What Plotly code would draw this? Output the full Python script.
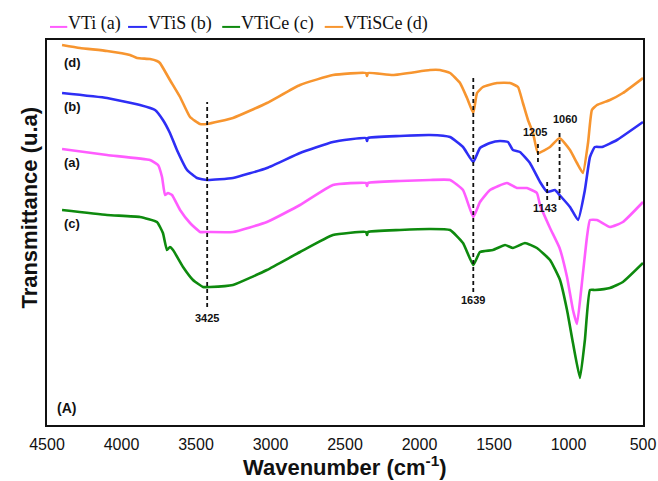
import plotly.graph_objects as go

# ---------------- data ----------------
wn_vti = [4399, 4097, 3809, 3755, 3728, 3708, 3688, 3661, 3607, 3540, 3473, 3425, 3252, 3024,
          2802, 2581, 2359, 2352, 2346, 2131, 1930, 1795, 1708, 1639, 1594, 1527, 1413, 1346,
          1279, 1212, 1191, 1124, 1060, 1010, 970, 943, 910, 876, 856, 809, 722, 635, 500]
t_vti = [276, 270, 265, 260, 248, 230, 232, 230, 215, 202, 193, 193, 193, 203,
         220, 240, 242, 239, 242, 244, 245, 245, 235, 208, 223, 235, 242, 237,
         237, 232, 220, 197, 177, 148, 115, 101, 142, 188, 205, 205, 198, 203, 223]

wn_vtis = [4399, 4097, 3876, 3775, 3722, 3675, 3628, 3560, 3493, 3425, 3252, 3024, 2802, 2581,
           2359, 2352, 2346, 2131, 1930, 1795, 1708, 1639, 1594, 1527, 1460, 1406, 1373, 1326,
           1259, 1191, 1143, 1091, 1060, 990, 936, 890, 856, 823, 775, 675, 500]
t_vtis = [332, 327, 320, 315, 305, 292, 275, 255, 247, 245, 247, 257, 272, 283,
          287, 284, 287, 289, 290, 288, 278, 263, 277, 282, 284, 283, 275, 273,
          262, 243, 233, 235, 230, 218, 205, 235, 268, 278, 278, 285, 303]

wn_vtice = [4399, 4097, 3876, 3762, 3722, 3695, 3675, 3654, 3587, 3520, 3453, 3406, 3252, 3024,
            2802, 2581, 2359, 2352, 2346, 2131, 1930, 1795, 1708, 1639, 1594, 1507, 1426, 1373,
            1292, 1212, 1124, 1057, 1010, 970, 923, 890, 856, 823, 722, 635, 500]
t_vtice = [215, 210, 208, 203, 192, 175, 178, 175, 158, 145, 138, 138, 140, 155,
           173, 190, 193, 190, 193, 195, 196, 195, 182, 160, 173, 175, 180, 177,
           182, 177, 165, 145, 115, 82, 47, 85, 135, 135, 137, 143, 162]

wn_vtisce = [4399, 4279, 4097, 3943, 3896, 3809, 3762, 3742, 3675, 3607, 3540, 3473, 3425, 3252,
             3024, 2802, 2581, 2359, 2352, 2346, 2178, 1930, 1863, 1795, 1728, 1681, 1639, 1614,
             1574, 1480, 1393, 1339, 1306, 1272, 1238, 1205, 1124, 1060, 990, 943, 903, 869,
             843, 809, 722, 635, 500]
t_vtisce = [380, 377, 374, 370, 367, 366, 364, 362, 345, 328, 308, 301, 301, 307,
            322, 340, 350, 352, 349, 352, 350, 355, 355, 352, 342, 327, 312, 332,
            338, 342, 342, 338, 322, 305, 292, 272, 278, 287, 275, 262, 252, 282,
            315, 320, 325, 332, 347]

series_names = ["VTi (a)", "VTiS (b)", "VTiCe (c)", "VTiSCe (d)"]
series_tags = ["(a)", "(b)", "(c)", "(d)"]
peak_values = [3425, 1639, 1205, 1143, 1060]
x_ticks = [4500, 4000, 3500, 3000, 2500, 2000, 1500, 1000, 500]

# ---------------- styling ----------------
colors = ["#FF5CFF", "#2E2EF5", "#0E8A0E", "#F7952F"]
xs = [wn_vti, wn_vtis, wn_vtice, wn_vtisce]
ys = [t_vti, t_vtis, t_vtice, t_vtisce]

fig = go.Figure()
for name, x, y, c in zip(series_names, xs, ys, colors):
    fig.add_trace(go.Scatter(x=x, y=y, mode="lines", name=name,
                             line=dict(color=c, width=2.6, shape="spline", smoothing=0.4),
                             showlegend=False, hoverinfo="skip"))

# dashed marker lines: (y0, y1, label x, label y)
dash_geo = {
    3425: (118, 323, 3425, 107),
    1639: (133, 347, 1639, 125),
    1205: (263, 283, 1225, 293),
    1143: (225, 245, 1158, 217),
    1060: (225, 292, 1024, 306),
}
for p in peak_values:
    y0, y1, lx, ly = dash_geo[p]
    fig.add_shape(type="line", xref="x", yref="y", x0=p, x1=p, y0=y0, y1=y1,
                  line=dict(color="#111111", width=1.8, dash="4px,3px"))
    fig.add_annotation(x=lx, y=ly, xref="x", yref="y", text="<b>%d</b>" % p, showarrow=False,
                       font=dict(family="Liberation Sans", size=11, color="#111111"),
                       xanchor="center", yanchor="middle")

# curve tags
tag_pos = {"(d)": 363, "(b)": 319, "(a)": 263, "(c)": 202}
for t in series_tags:
    fig.add_annotation(x=4332, y=tag_pos[t], xref="x", yref="y", text="<b>" + t + "</b>",
                       showarrow=False, font=dict(family="Liberation Sans", size=13, color="#111111"))
fig.add_annotation(x=4366, y=17, xref="x", yref="y", text="<b>(A)</b>", showarrow=False,
                   font=dict(family="Liberation Sans", size=14, color="#111111"))

# legend row: short coloured line + serif label (paper coordinates)
leg_line_x = [(0.005, 0.034), (0.136, 0.168), (0.294, 0.324), (0.466, 0.497)]
for name, c, (lx0, lx1) in zip(series_names, colors, leg_line_x):
    fig.add_shape(type="line", xref="paper", yref="paper", x0=lx0, x1=lx1, y0=1.034, y1=1.034,
                  line=dict(color=c, width=2))
    fig.add_annotation(x=lx1 - 0.002, y=1.043, xref="paper", yref="paper", xanchor="left",
                       yanchor="middle", text=name, showarrow=False,
                       font=dict(family="Liberation Serif", size=18, color="#111111"))

# y title
fig.add_annotation(x=-0.03, y=0.565, xref="paper", yref="paper", text="<b>Transmittance (u.a)</b>",
                   textangle=-90, showarrow=False, xanchor="center", yanchor="middle",
                   font=dict(family="Liberation Sans", size=22, color="#111111"))

# x title as annotation below tick labels
fig.add_annotation(x=0.5, y=-0.146, xref="paper", yref="paper", yanchor="bottom",
                   text="<b>Wavenumber (cm<sup>-1</sup>)</b>", showarrow=False, borderpad=0,
                   font=dict(family="Liberation Sans", size=22, color="#111111"))

fig.update_xaxes(range=[4500, 500], tickvals=x_ticks, ticktext=[str(v) for v in x_ticks],
                 showgrid=False, zeroline=False, showline=True, mirror=True, automargin=False,
                 linecolor="#111111", linewidth=2, ticks="outside", ticklen=4,
                 tickcolor="rgba(0,0,0,0)",
                 tickfont=dict(family="Liberation Sans", size=16, color="#111111"))
fig.update_yaxes(range=[0, 385], showticklabels=False, showgrid=False, zeroline=False,
                 automargin=False,
                 showline=True, mirror=True, linecolor="#111111", linewidth=2, ticks="")

fig.update_layout(width=658, height=481, margin=dict(l=47, r=15, t=40, b=56),
                  paper_bgcolor="white", plot_bgcolor="white")
fig.write_html("out.html")
